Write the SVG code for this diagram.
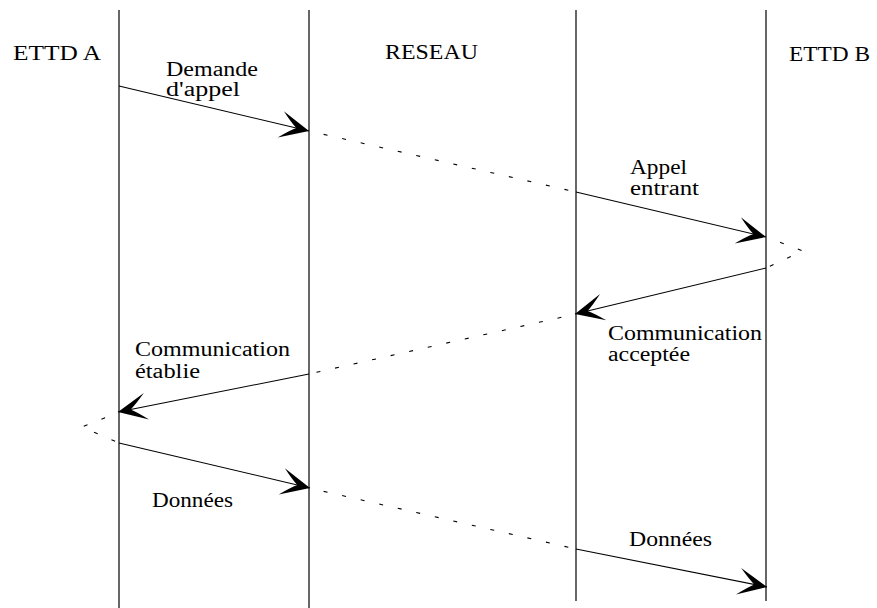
<svg xmlns="http://www.w3.org/2000/svg" width="877" height="608" viewBox="0 0 877 608">
<style>
  .life { stroke: #000; stroke-width: 1.2; fill: none; }
  .msg { stroke: #000; stroke-width: 1.1; fill: none; marker-end: url(#barb); }
  .dot { stroke: #000; stroke-width: 1.1; fill: none; stroke-dasharray: 4 15; stroke-dashoffset: 4; }
  text { font-family: "Liberation Serif", "Times New Roman", serif; font-size: 20.5px; fill: #000; }
</style>
<defs>
  <marker id="barb" viewBox="-31 -15 33 30" markerWidth="33" markerHeight="30" refX="0" refY="0" orient="auto" markerUnits="userSpaceOnUse">
    <path d="M0,0 L-29,-13.5 Q-19,-4 -13,0 Q-19,4 -29,13.5 Z" fill="#000"/>
  </marker>
</defs>
<rect width="877" height="608" fill="#fff"/>
<g id="ettd-a">
  <line class="life" x1="119" y1="10" x2="119" y2="608"/>
  <text x="13" y="60" textLength="88" lengthAdjust="spacingAndGlyphs">ETTD A</text>
</g>
<g id="reseau-left">
  <line class="life" x1="309" y1="10" x2="309" y2="608"/>
</g>
<g id="reseau-right">
  <line class="life" x1="576" y1="10" x2="576" y2="601"/>
</g>
<g id="reseau-label">
  <text x="385" y="59" textLength="93" lengthAdjust="spacingAndGlyphs">RESEAU</text>
</g>
<g id="ettd-b">
  <line class="life" x1="766" y1="10" x2="766" y2="601"/>
  <text x="789" y="61" textLength="81" lengthAdjust="spacingAndGlyphs">ETTD B</text>
</g>
<g id="connectors">
  <line class="msg" x1="119" y1="86" x2="309" y2="131"/>
  <line class="dot" x1="309" y1="131" x2="576" y2="192"/>
  <line class="msg" x1="576" y1="192" x2="766" y2="237"/>
  <polyline class="dot" points="766,237 803,251 766,268"/>
  <line class="msg" x1="766" y1="268" x2="575" y2="314"/>
  <line class="dot" x1="576" y1="314" x2="309" y2="374"/>
  <line class="msg" x1="309" y1="374" x2="118" y2="412"/>
  <polyline class="dot" points="119,412 82,427 119,443"/>
  <line class="msg" x1="119" y1="443" x2="310" y2="488"/>
  <line class="dot" x1="309" y1="488" x2="576" y2="549"/>
  <line class="msg" x1="576" y1="549" x2="767" y2="587"/>
</g>
<g id="labels">
  <text x="166" y="76" textLength="92" lengthAdjust="spacingAndGlyphs">Demande</text>
  <text x="166" y="96" textLength="74" lengthAdjust="spacingAndGlyphs">d'appel</text>
  <text x="630" y="174" textLength="57" lengthAdjust="spacingAndGlyphs">Appel</text>
  <text x="630" y="195" textLength="69" lengthAdjust="spacingAndGlyphs">entrant</text>
  <text x="608" y="340" textLength="154" lengthAdjust="spacingAndGlyphs">Communication</text>
  <text x="608" y="361" textLength="82" lengthAdjust="spacingAndGlyphs">acceptée</text>
  <text x="135" y="356" textLength="155" lengthAdjust="spacingAndGlyphs">Communication</text>
  <text x="135" y="378" textLength="65" lengthAdjust="spacingAndGlyphs">établie</text>
  <text x="152" y="507" textLength="81" lengthAdjust="spacingAndGlyphs">Données</text>
  <text x="629" y="546" textLength="83" lengthAdjust="spacingAndGlyphs">Données</text>
</g>
</svg>
